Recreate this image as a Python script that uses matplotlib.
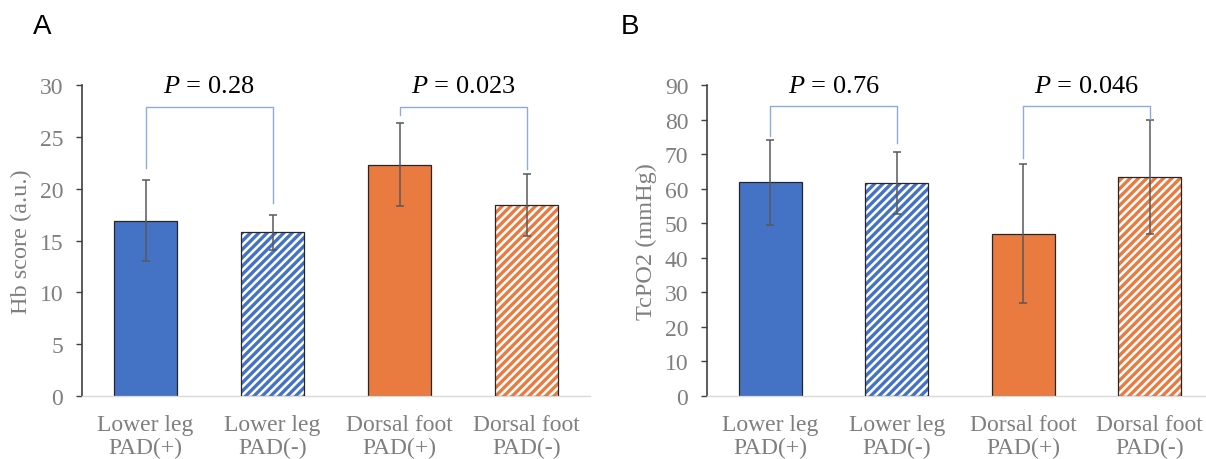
import matplotlib
matplotlib.use('Agg')
import matplotlib.pyplot as plt

plt.rcParams['font.family'] = 'Liberation Serif'
plt.rcParams['mathtext.fontset'] = 'custom'
plt.rcParams['mathtext.rm'] = 'Liberation Serif'
plt.rcParams['mathtext.it'] = 'Liberation Serif:italic'
plt.rcParams['hatch.linewidth'] = 2.4

# data
categories = ['Lower leg\nPAD(+)', 'Lower leg\nPAD(-)', 'Dorsal foot\nPAD(+)', 'Dorsal foot\nPAD(-)']
hb_mean = [16.9, 15.8, 22.3, 18.4]
hb_err = [3.9, 1.7, 4.0, 3.0]
tc_mean = [61.8, 61.7, 47.0, 63.5]
tc_err = [12.3, 8.9, 20.1, 16.5]
hb_p = ['0.28', '0.023']
tc_p = ['0.76', '0.046']
# bracket: top level, left leg end, right leg end
hb_brackets = [(27.9, 22.0, 18.6), (27.9, 27.1, 21.9)]
tc_brackets = [(83.8, 75.1, 73.1), (83.8, 68.9, 80.1)]

blue = '#4472C4'
orange = '#E97A40'
gray = '#7F7F7F'
fills = [blue, 'white', orange, 'white']
hatch_cols = [None, blue, None, orange]

W, H = 1206, 460
fig = plt.figure(figsize=(W / 100, H / 100), dpi=100)


def panel(rect, means, errs, ymax, step, ylabel, pvals, brackets, letter, lx):
    ax = fig.add_axes(rect)
    x = range(len(categories))
    for i in x:
        if hatch_cols[i] is None:
            ax.bar(i, means[i], width=0.5, color=fills[i], edgecolor='#262626', linewidth=0.9, zorder=2)
        else:
            ax.bar(i, means[i], width=0.5, color='white', edgecolor=hatch_cols[i],
                   hatch='////', linewidth=0, zorder=2)
            ax.bar(i, means[i], width=0.5, fill=False, edgecolor='#262626', linewidth=0.9, zorder=3)
    ax.errorbar(list(x), means, yerr=errs, fmt='none', ecolor='#595959', elinewidth=1.1,
                capsize=3, capthick=1.1, zorder=4)
    for k, (top, l1, l2) in enumerate(brackets):
        a, b = 2 * k, 2 * k + 1
        ax.plot([a, a, b, b], [l1, top, top, l2], color='#8FAADC', linewidth=1.0,
                clip_on=False, zorder=5)
        ax.text((a + b) / 2, ymax * 0.997, '$P$ = ' + pvals[k], ha='center', va='center',
                fontsize=19, color='black', clip_on=False)
    ax.set_xlim(-0.5, 3.5)
    ax.set_ylim(0, ymax)
    ax.set_yticks(range(0, ymax + 1, step))
    ax.set_xticks(list(x))
    ax.set_xticklabels(categories, linespacing=1.12)
    ax.tick_params(axis='x', length=0, pad=13, labelsize=17, labelcolor=gray)
    ax.tick_params(axis='y', length=4.5, width=1.0, color='#404040', pad=9,
                   labelsize=17, labelcolor=gray)
    for s in ['top', 'right']:
        ax.spines[s].set_visible(False)
    ax.spines['left'].set_color('#404040')
    ax.spines['left'].set_linewidth(1.2)
    ax.spines['bottom'].set_color('#D9D9D9')
    ax.spines['bottom'].set_linewidth(1.0)
    ax.set_ylabel(ylabel, fontsize=17.5, color=gray)
    ax.yaxis.set_label_coords(-0.098, 0.5)
    fig.text(lx / W, 1 - 27 / H, letter, family='Liberation Sans', fontsize=20,
             ha='center', va='center')
    return ax


panel([82 / W, 63 / H, 508 / W, 311 / H], hb_mean, hb_err, 30, 5, 'Hb score (a.u.)',
      hb_p, hb_brackets, 'A', 42)
panel([707 / W, 63 / H, 506 / W, 311 / H], tc_mean, tc_err, 90, 10, 'TcPO2 (mmHg)',
      tc_p, tc_brackets, 'B', 630)

fig.savefig('out.png', dpi=100)
